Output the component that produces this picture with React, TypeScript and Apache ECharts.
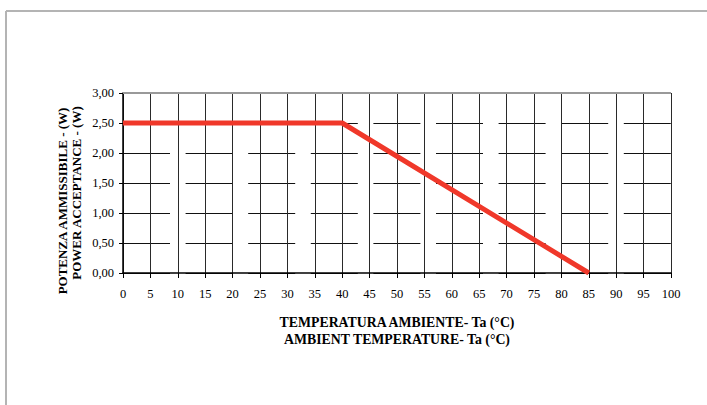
import React, { useEffect, useRef } from "react";
import * as echarts from "echarts";

const xTicks = [0, 5, 10, 15, 20, 25, 30, 35, 40, 45, 50, 55, 60, 65, 70, 75, 80, 85, 90, 95, 100];
const yTicks = ["0,00", "0,50", "1,00", "1,50", "2,00", "2,50", "3,00"];
const tempValues = [0, 40, 85];
const powerValues = [2.5, 2.5, 0];
const yTitleLines = ["POTENZA AMMISSIBILE - (W)", "POWER ACCEPTANCE - (W)"];
const xTitleLines = ["TEMPERATURA AMBIENTE- Ta (°C)", "AMBIENT TEMPERATURE- Ta (°C)"];

const SERIF = '"Liberation Serif", "DejaVu Serif", serif';

export default function App() {
  const ref = useRef<HTMLDivElement>(null);
  useEffect(() => {
    if (!ref.current) return;
    const chart = echarts.init(ref.current, undefined, { renderer: "svg" });
    const data = tempValues.map((t, i) => [t, powerValues[i]]);
    chart.setOption({
      animation: false,
      backgroundColor: "#ffffff",
      grid: { left: 123, right: 36, top: 93, bottom: 132 },
      xAxis: {
        type: "value",
        min: 0,
        max: 100,
        interval: 5,
        axisLine: { show: true, lineStyle: { color: "#000", width: 1.5 } },
        axisTick: { show: true, length: 5, lineStyle: { color: "#000" } },
        axisLabel: {
          color: "#000",
          fontFamily: SERIF,
          fontSize: 12.5,
          margin: 14,
          formatter: (v: number) => (xTicks.includes(v) ? String(v) : ""),
        },
        splitLine: { show: true, lineStyle: { color: "#2a2a2a", width: 1 } },
      },
      yAxis: {
        type: "value",
        min: 0,
        max: 3,
        interval: 0.5,
        axisLine: { show: true, lineStyle: { color: "#000", width: 1.5 } },
        axisTick: { show: true, length: 4, lineStyle: { color: "#000" } },
        axisLabel: {
          color: "#000",
          fontFamily: SERIF,
          fontSize: 12.5,
          margin: 9,
          formatter: (v: number) => yTicks[Math.round(v / 0.5)] ?? "",
        },
        splitLine: {
          show: true,
          lineStyle: { color: "#111", width: 1, type: [47, 15.6], dashOffset: 0 },
        },
      },
      graphic: [
        { type: "line", shape: { x1: 6, y1: 11, x2: 707, y2: 11 }, style: { stroke: "#b4b4b4", lineWidth: 2 } },
        { type: "line", shape: { x1: 6, y1: 11, x2: 6, y2: 405 }, style: { stroke: "#b4b4b4", lineWidth: 2 } },
        {
          type: "text",
          x: 62,
          y: 201,
          rotation: Math.PI / 2,
          style: {
            text: yTitleLines[0],
            fontFamily: SERIF,
            fontWeight: "bold",
            fontSize: 13,
            fill: "#000",
            align: "center",
            verticalAlign: "middle",
          },
        },
        {
          type: "text",
          x: 76,
          y: 193,
          rotation: Math.PI / 2,
          style: {
            text: yTitleLines[1],
            fontFamily: SERIF,
            fontWeight: "bold",
            fontSize: 13,
            fill: "#000",
            align: "center",
            verticalAlign: "middle",
          },
        },
        {
          type: "text",
          x: 397,
          y: 322,
          style: {
            text: xTitleLines[0],
            fontFamily: SERIF,
            fontWeight: "bold",
            fontSize: 13.8,
            fill: "#000",
            align: "center",
            verticalAlign: "middle",
          },
        },
        {
          type: "text",
          x: 397,
          y: 339,
          style: {
            text: xTitleLines[1],
            fontFamily: SERIF,
            fontWeight: "bold",
            fontSize: 13.8,
            fill: "#000",
            align: "center",
            verticalAlign: "middle",
          },
        },
      ],
      series: [
        {
          type: "line",
          data,
          symbol: "none",
          lineStyle: { color: "#f0382a", width: 5 },
          z: 5,
          markLine: {
            silent: true,
            symbol: "none",
            label: { show: false },
            lineStyle: { color: "#999", width: 2, type: "solid" },
            data: [{ yAxis: 3 }],
            z: 1,
          },
        },
      ],
    });
    return () => chart.dispose();
  }, []);
  return (
    <div
      ref={ref}
      style={{ position: "fixed", left: 0, top: 0, width: 707, height: 405 }}
    />
  );
}
